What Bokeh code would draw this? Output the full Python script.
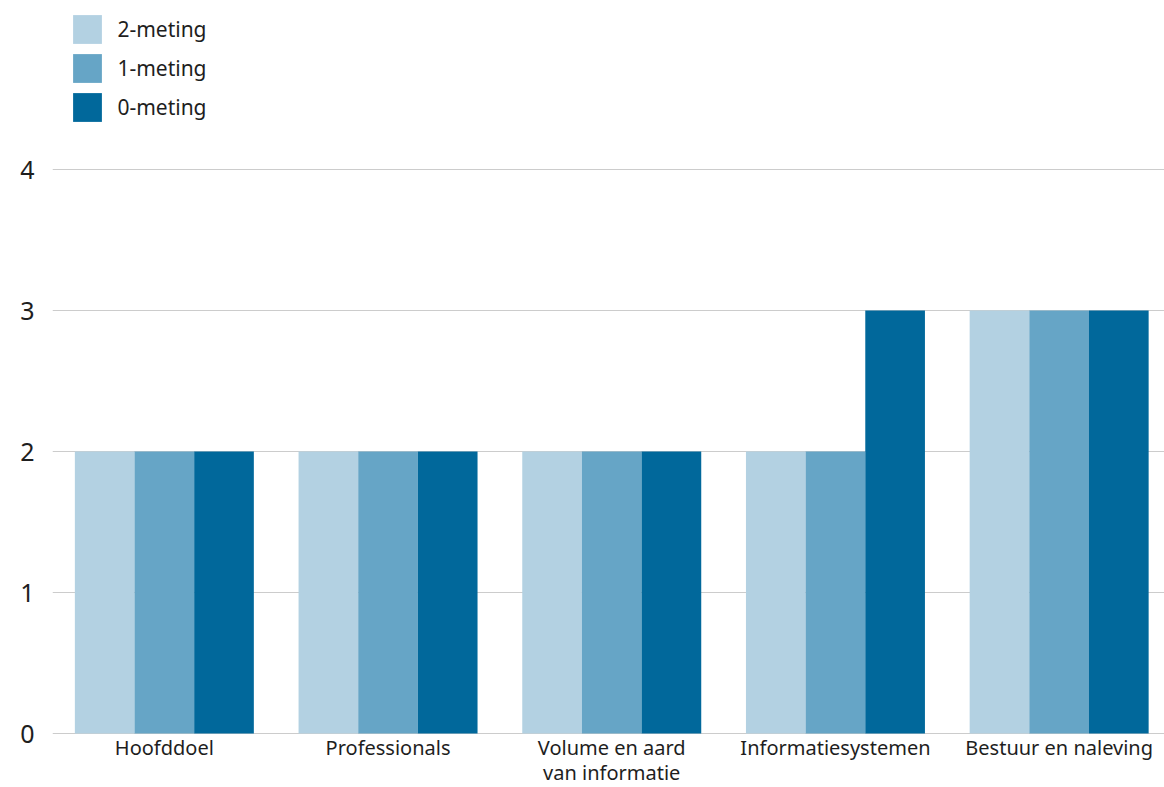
from bokeh.plotting import figure
from bokeh.models import Range1d, FixedTicker, Legend, LegendItem, ColumnDataSource
from bokeh.core.properties import value
from bokeh.embed import file_html
from bokeh.resources import INLINE

# ---- data ----
categories = ["Hoofddoel", "Professionals", "Volume en aard\nvan informatie",
              "Informatiesystemen", "Bestuur en naleving"]
series_names = ["2-meting", "1-meting", "0-meting"]
meting_2 = [2, 2, 2, 2, 3]
meting_1 = [2, 2, 2, 2, 3]
meting_0 = [2, 2, 2, 3, 3]
y_ticks = [0, 1, 2, 3, 4]
colors = ["#b3d1e2", "#66a5c6", "#01689b"]

# ---- layout ----
W, H = 1164, 787
LEFT = 52
PX_PER_CAT = 223.7
PX_PER_UNIT = 141.0
ZERO_Y = 733
BAR_W = 0.2667
FONT = "Noto Sans"
TXT = "#1e1e1e"

p = figure(width=W, height=H, output_backend="svg", toolbar_location=None,
           x_range=Range1d(0, (W - LEFT) / PX_PER_CAT),
           y_range=Range1d(-(H - ZERO_Y) / PX_PER_UNIT, ZERO_Y / PX_PER_UNIT),
           min_border_left=LEFT, min_border_right=0, min_border_top=0,
           min_border_bottom=0, x_axis_location=None)
p.outline_line_color = None
p.background_fill_color = "white"
p.xgrid.visible = False
p.ygrid.ticker = FixedTicker(ticks=y_ticks)
p.ygrid.grid_line_color = "#cccccc"
p.ygrid.grid_line_width = 1

p.yaxis.ticker = FixedTicker(ticks=y_ticks)
p.yaxis.axis_line_color = None
p.yaxis.major_tick_line_color = None
p.yaxis.minor_tick_line_color = None
p.yaxis.major_label_standoff = 12
p.yaxis.major_label_text_font = FONT
p.yaxis.major_label_text_font_size = "25px"
p.yaxis.major_label_text_color = TXT

series = [meting_2, meting_1, meting_0]
renderers = []
for k, vals in enumerate(series):
    xs = [i + 0.5 + (k - 1) * BAR_W for i in range(len(categories))]
    src = ColumnDataSource(dict(x=xs, top=vals))
    r = p.vbar(x="x", top="top", bottom=0, width=BAR_W, source=src,
               fill_color=colors[k], line_color=None)
    renderers.append(r)

centers = [i + 0.5 for i in range(len(categories))]
p.text(x=centers, y=[0] * len(categories), text=categories,
       text_align="center", text_baseline="top", y_offset=0,
       text_font=value(FONT), text_font_size="20px", text_line_height=0.95,
       text_color=TXT)

GW = 36  # legend glyph box; bars are drawn at 80% of it
legend = Legend(items=[LegendItem(label=n, renderers=[r]) for n, r in zip(series_names, renderers)],
                location=(21 - 0.1 * GW, H - (15 - 0.1 * GW) - (3 * GW + 2 * 3)),
                glyph_width=GW, glyph_height=GW,
                spacing=3, padding=0, margin=0, label_standoff=12,
                label_text_font=FONT, label_text_font_size="21px",
                label_text_color=TXT, border_line_color=None,
                background_fill_alpha=0)
p.add_layout(legend)

open("out.html", "w").write(file_html(p, INLINE))
